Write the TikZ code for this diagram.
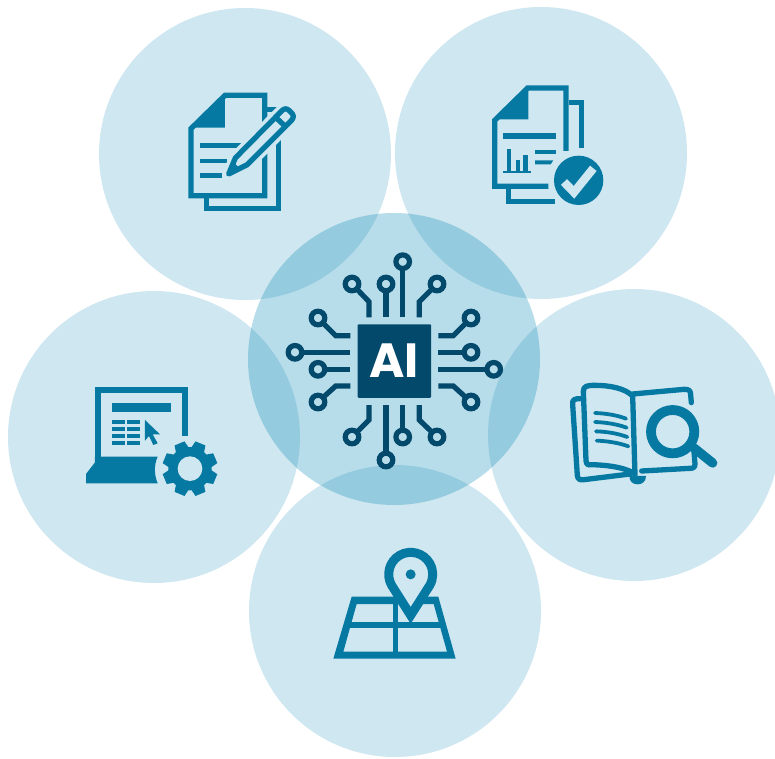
\documentclass[tikz,border=0pt]{standalone}
\usepackage{fontspec}
\setsansfont{Poppins}
\definecolor{paleblue}{HTML}{CFE7F0}
\definecolor{hubblue}{RGB}{25,143,188}
\definecolor{iconblue}{HTML}{0679A3}
\definecolor{chipblue}{HTML}{03496B}
\tikzset{
    bubble/.style={circle, fill=paleblue, minimum size=292pt, inner sep=0pt},
    hub/.style={circle, fill=hubblue, fill opacity=0.3125, minimum size=292pt, inner sep=0pt},
    chip/.style={rectangle, fill=chipblue, rounded corners=1pt, minimum size=73.5pt, inner sep=0pt,
        text=white, font=\fontsize{48}{48}\sffamily\bfseries},
    pad/.style={circle, draw=chipblue, line width=5.2pt, fill=none, minimum size=13.6pt, inner sep=0pt, outer sep=0pt},
    trace/.style={draw=chipblue, line width=5.2pt, line join=miter},
    iconline/.style={draw=iconblue, line width=5.3pt, line join=miter},
    iconfill/.style={fill=iconblue},
    knockout/.style={draw=paleblue, fill=paleblue, line width=12.5pt, line join=round},
    crop/.style 2 args={shift={(#1,#2)}, x=0.3333pt, y=-0.3333pt},
}
\begin{document}
\begin{tikzpicture}[x=1pt, y=-1pt]
    \useasboundingbox (0,0) rectangle (775,758);

    \node[bubble] (write) at (245,154) {};
    \node[bubble] (report) at (541,153) {};
    \node[bubble] (laptop) at (154,437) {};
    \node[bubble] (book) at (634,435) {};
    \node[bubble] (map) at (395,611) {};
    \node[hub] (core) at (394,359) {};

    \node[chip] (cpu) at (394.3,361) {\raisebox{1.5pt}{AI}};

    \node[pad] (padn1) at (352,284) {};
    \node[pad] (padn2) at (386,284) {};
    \node[pad] (padn3) at (402.7,261.7) {};
    \node[pad] (padn4) at (437,284) {};
    \coordinate (pinn1) at (369,317.3);
    \coordinate (pinn2) at (386,317.3);
    \coordinate (pinn3) at (402.7,317.3);
    \coordinate (pinn4) at (419.3,317.3);
    \draw[trace] (padn1) -- (369,301.7) -- (pinn1);
    \draw[trace] (padn2) -- (pinn2);
    \draw[trace] (padn3) -- (pinn3);
    \draw[trace] (padn4) -- (419.3,301.7) -- (pinn4);

    \node[pad] (pads1) at (352,437) {};
    \node[pad] (pads2) at (386,460) {};
    \node[pad] (pads3) at (402.7,437) {};
    \node[pad] (pads4) at (437,437) {};
    \coordinate (pins1) at (369,405);
    \coordinate (pins2) at (386,405);
    \coordinate (pins3) at (402.7,405);
    \coordinate (pins4) at (419.3,405);
    \draw[trace] (pads1) -- (369,420) -- (pins1);
    \draw[trace] (pads2) -- (pins2);
    \draw[trace] (pads3) -- (pins3);
    \draw[trace] (pads4) -- (419.3,420) -- (pins4);

    \node[pad] (padw1) at (318,318) {};
    \node[pad] (padw2) at (295,352.3) {};
    \node[pad] (padw3) at (318,369.3) {};
    \node[pad] (padw4) at (318,402) {};
    \coordinate (pinw1) at (350.3,335.7);
    \coordinate (pinw2) at (350.3,352.3);
    \coordinate (pinw3) at (350.3,369.3);
    \coordinate (pinw4) at (350.3,386);
    \draw[trace] (padw1) -- (335.7,335.7) -- (pinw1);
    \draw[trace] (padw2) -- (pinw2);
    \draw[trace] (padw3) -- (pinw3);
    \draw[trace] (padw4) -- (335.7,386) -- (pinw4);

    \node[pad] (pade1) at (471,318) {};
    \node[pad] (pade2) at (471,352.3) {};
    \node[pad] (pade3) at (493.7,369.3) {};
    \node[pad] (pade4) at (471,402) {};
    \coordinate (pine1) at (438.3,335.7);
    \coordinate (pine2) at (438.3,352.3);
    \coordinate (pine3) at (438.3,369.3);
    \coordinate (pine4) at (438.3,386);
    \draw[trace] (pade1) -- (453.3,335.7) -- (pine1);
    \draw[trace] (pade2) -- (pine2);
    \draw[trace] (pade3) -- (pine3);
    \draw[trace] (pade4) -- (453.3,386) -- (pine4);

    \begin{scope}[crop={170}{80}]
        \draw[iconline] (63,146) -- (165,46) -- (284,46) -- (284,347) -- (63,347) -- cycle;
        \draw[iconline] (291,89) -- (325,89) -- (325,386) -- (110,386) -- (110,347);
        \fill[iconfill] (62,143) -- (165,42) -- (165,143) -- cycle;
        \fill[iconfill] (90,190) rectangle (212,205);
        \fill[iconfill] (90,236) rectangle (172,249);
        \fill[iconfill] (90,280) rectangle (155,293);
        \draw[knockout] (176,282) -- (196,234) -- (332,96) .. controls (342,84) and (350,84) .. (358,92) -- (364,98) .. controls (372,106) and (372,112) .. (364,122) -- (232,254) -- cycle;
        \draw[iconline, line join=round] (176,282) -- (196,234) -- (332,96) .. controls (342,84) and (350,84) .. (358,92) -- (364,98) .. controls (372,106) and (372,112) .. (364,122) -- (232,254) -- cycle;
        \draw[iconline] (318,113) -- (348,141);
        \fill[iconfill] (170,288) -- (188,244) -- (214,270) -- cycle;
    \end{scope}

    \begin{scope}[crop={480}{75}]
        \draw[iconline] (258,228) -- (258,39) -- (143,39) -- (44,136) -- (44,334) -- (205,334);
        \draw[iconline] (268,82) -- (304,82) -- (304,220);
        \draw[iconline] (86,340) -- (86,379) -- (225,379);
        \fill[iconfill] (43,133) -- (145,33) -- (145,133) -- cycle;
        \fill[iconfill] (70,173) rectangle (227,193);
        \fill[iconfill] (80,222) rectangle (93,290);
        \fill[iconfill] (108,255) rectangle (120,290);
        \fill[iconfill] (130,240) rectangle (143,290);
        \fill[iconfill] (70,288) rectangle (152,293);
        \fill[iconfill] (165,226) rectangle (227,238);
        \fill[iconfill] (165,256) -- (220,256) -- (212,268) -- (165,268) -- cycle;
        \fill[iconfill] (296,316) circle (74);
        \draw[draw=paleblue, line width=8.4pt] (252,321) -- (282,352) -- (340,280);
    \end{scope}

    \begin{scope}[crop={75}{375}]
        \draw[iconline, line width=5.8pt] (69,250) -- (69,45) -- (329,45) -- (329,182);
        \fill[iconfill] (60,245) -- (248,245) .. controls (236,272) and (238,300) .. (248,325) -- (33,325) -- (33,297) -- (60,262) -- cycle;
        \fill[iconfill] (110,85) rectangle (288,112);
        \fill[iconfill] (110,135) rectangle (150,148);
        \fill[iconfill] (156,135) rectangle (196,148);
        \fill[iconfill] (110,155) rectangle (150,168);
        \fill[iconfill] (156,155) rectangle (196,168);
        \fill[iconfill] (110,176) rectangle (150,188);
        \fill[iconfill] (156,176) rectangle (196,188);
        \fill[iconfill] (110,197) rectangle (150,209);
        \fill[iconfill] (156,197) rectangle (196,209);
        \fill[iconfill] (210,135) -- (255,178) -- (233,178) -- (248,205) -- (235,210) -- (222,183) -- (210,197) -- cycle;
        \fill[iconfill] (345,281) circle (65);
        \foreach \ang in {22.5,67.5,...,337.5}
            \fill[iconfill, shift={(345,281)}, rotate=\ang] (58,-21) -- (82,-16) -- (82,16) -- (58,21) -- cycle;
        \fill[paleblue] (345,281) circle (37);
    \end{scope}

    \begin{scope}[crop={560}{370}]
        \draw[iconline, line cap=round, line join=round] (62,86) .. controls (44,86) and (36,88) .. (38,104) -- (52,316) .. controls (53,328) and (60,331) .. (72,329) -- (210,312);
        \draw[iconline, line cap=round, line join=round] (85,284) .. controls (80,282) and (79,280) .. (78,272) -- (70,64) .. controls (70,48) and (82,46) .. (105,46) .. controls (150,46) and (195,55) .. (218,78) -- (225,315);
        \draw[iconline, line cap=round] (85,284) .. controls (130,284) and (190,290) .. (222,310);
        \draw[iconline, line cap=round, line join=round] (218,72) -- (372,58) .. controls (386,57) and (392,62) .. (392,74) -- (394,98);
        \draw[iconline, line cap=round, line join=round] (402,245) -- (405,282) .. controls (405,292) and (400,295) .. (390,295) -- (245,303);
        \fill[iconfill] (208,318) -- (258,318) .. controls (258,336) and (245,343) .. (233,343) .. controls (218,343) and (208,334) .. (208,318) -- cycle;
        \draw[iconline, line cap=round, line width=3.8pt] (105,129) .. controls (135,130) and (170,135) .. (198,146);
        \draw[iconline, line cap=round, line width=3.8pt] (105,156) .. controls (135,157) and (170,162) .. (200,173);
        \draw[iconline, line cap=round, line width=3.8pt] (108,184) .. controls (140,185) and (172,190) .. (202,201);
        \draw[iconline, line cap=round, line width=3.8pt] (110,212) .. controls (140,213) and (175,218) .. (205,229);
        \draw[iconline, line width=9.8pt] (338,185) circle (65);
        \draw[draw=iconblue, line cap=round, line width=9.4pt] (402,234) -- (458,279);
    \end{scope}

    \begin{scope}[crop={325}{540}]
        \fill[iconfill, even odd rule] (80,170) -- (340,170) -- (392,356) -- (25,356) -- cycle (95,192) -- (326,192) -- (366,335) -- (55,335) -- cycle;
        \fill[iconfill] (62,245) rectangle (360,265);
        \fill[iconfill] (203,192) rectangle (218,340);
        \draw[iconline, fill=paleblue, line width=9pt] (200,136) arc (150:390:66) -- (257,226) -- cycle;
        \fill[iconfill] (257,103) circle (15);
    \end{scope}
\end{tikzpicture}
\end{document}
